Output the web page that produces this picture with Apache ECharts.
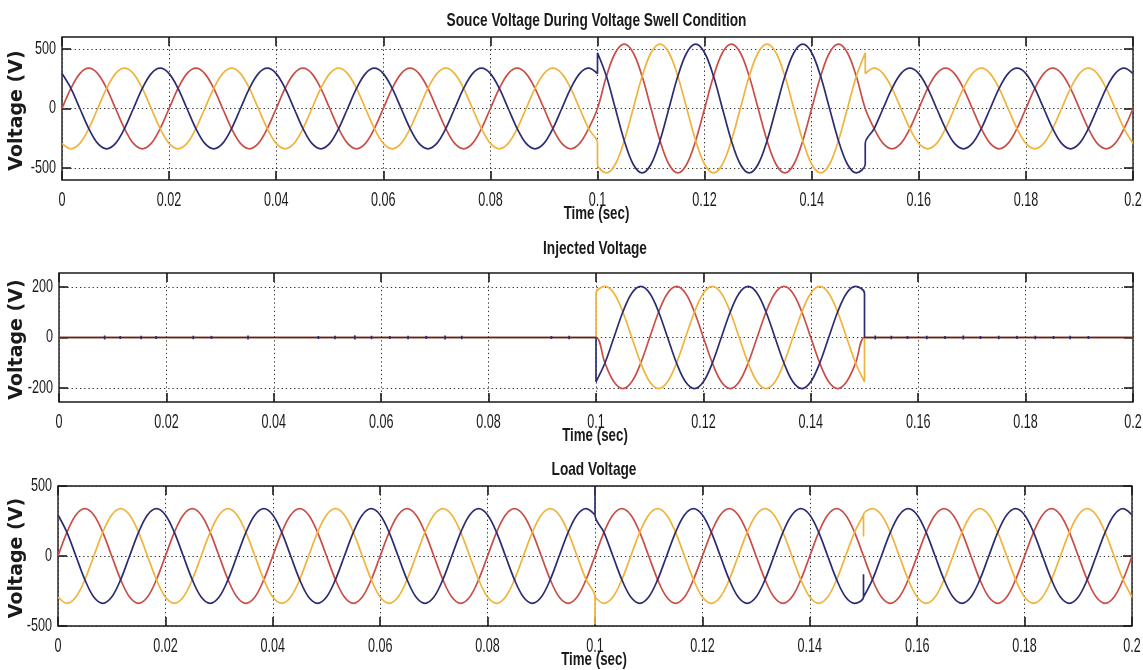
<!DOCTYPE html>
<html>
<head>
<meta charset="utf-8">
<title>Voltage Swell</title>
<script src="https://cdn.jsdelivr.net/npm/echarts@6/dist/echarts.min.js"></script>
<style>
  html, body { margin: 0; padding: 0; background: #ffffff; }
  #chart { width: 1143px; height: 670px; }
</style>
</head>
<body>
<div id="chart"></div>
<script>
// Samples are taken 12 times per 50 Hz cycle (every 1/600 s), 121 samples over 0.2 s.
const SAMPLES_PER_SECOND = 600;

const X_TICKS = [0, 0.02, 0.04, 0.06, 0.08, 0.1, 0.12, 0.14, 0.16, 0.18, 0.2];
const X_TICK_LABELS = ['0', '0.02', '0.04', '0.06', '0.08', '0.1', '0.12', '0.14', '0.16', '0.18', '0.2'];
const SOURCE_Y_TICKS = [-500, 0, 500];
const INJECTED_Y_TICKS = [-200, 0, 200];
const LOAD_Y_TICKS = [-500, 0, 500];

const TITLES = ['Souce Voltage During Voltage Swell Condition', 'Injected Voltage', 'Load Voltage'];
const X_NAME = 'Time (sec)';
const Y_NAME = 'Voltage (V)';

// ---- Source voltage (V): swell between 0.1 s and 0.15 s ----
const SOURCE_RED = [
  0, 169, 293, 338, 293, 169, 0, -169, -293, -338, -293, -169,
  0, 169, 293, 338, 293, 169, 0, -169, -293, -338, -293, -169,
  0, 169, 293, 338, 293, 169, 0, -169, -293, -338, -293, -169,
  0, 169, 293, 338, 293, 169, 0, -169, -293, -338, -293, -169,
  0, 169, 293, 338, 293, 169, 0, -169, -293, -338, -293, -169,
  0, 270, 468, 540, 468, 270, 0, -270, -468, -540, -468, -270,
  0, 270, 468, 540, 468, 270, 0, -270, -468, -540, -468, -270,
  0, 270, 468, 540, 468, 270, 0, -169, -293, -338, -293, -169,
  0, 169, 293, 338, 293, 169, 0, -169, -293, -338, -293, -169,
  0, 169, 293, 338, 293, 169, 0, -169, -293, -338, -293, -169,
  0
];
const SOURCE_YELLOW = [
  -293, -338, -293, -169, 0, 169, 293, 338, 293, 169, 0, -169,
  -293, -338, -293, -169, 0, 169, 293, 338, 293, 169, 0, -169,
  -293, -338, -293, -169, 0, 169, 293, 338, 293, 169, 0, -169,
  -293, -338, -293, -169, 0, 169, 293, 338, 293, 169, 0, -169,
  -293, -338, -293, -169, 0, 169, 293, 338, 293, 169, 0, -169,
  -468, -540, -468, -270, 0, 270, 468, 540, 468, 270, 0, -270,
  -468, -540, -468, -270, 0, 270, 468, 540, 468, 270, 0, -270,
  -468, -540, -468, -270, 0, 270, 293, 338, 293, 169, 0, -169,
  -293, -338, -293, -169, 0, 169, 293, 338, 293, 169, 0, -169,
  -293, -338, -293, -169, 0, 169, 293, 338, 293, 169, 0, -169,
  -293
];
const SOURCE_BLUE = [
  293, 169, 0, -169, -293, -338, -293, -169, 0, 169, 293, 338,
  293, 169, 0, -169, -293, -338, -293, -169, 0, 169, 293, 338,
  293, 169, 0, -169, -293, -338, -293, -169, 0, 169, 293, 338,
  293, 169, 0, -169, -293, -338, -293, -169, 0, 169, 293, 338,
  293, 169, 0, -169, -293, -338, -293, -169, 0, 169, 293, 338,
  468, 270, 0, -270, -468, -540, -468, -270, 0, 270, 468, 540,
  468, 270, 0, -270, -468, -540, -468, -270, 0, 270, 468, 540,
  468, 270, 0, -270, -468, -540, -293, -169, 0, 169, 293, 338,
  293, 169, 0, -169, -293, -338, -293, -169, 0, 169, 293, 338,
  293, 169, 0, -169, -293, -338, -293, -169, 0, 169, 293, 338,
  293
];
// values just before a switching instant: [time s, volts]
const SOURCE_RED_STEPS = [];
const SOURCE_YELLOW_STEPS = [[0.1, -293], [0.15, 468]];
const SOURCE_BLUE_STEPS = [[0.1, 293], [0.15, -468]];

// ---- Injected voltage (V) ----
const INJECTED_RED = [
  0, 0, 0, 0, 0, 0, 0, 0, 0, 0, 0, 0,
  0, 0, 0, 0, 0, 0, 0, 0, 0, 0, 0, 0,
  0, 0, 0, 0, 0, 0, 0, 0, 0, 0, 0, 0,
  0, 0, 0, 0, 0, 0, 0, 0, 0, 0, 0, 0,
  0, 0, 0, 0, 0, 0, 0, 0, 0, 0, 0, 0,
  0, -101, -175, -202, -175, -101, 0, 101, 175, 202, 175, 101,
  0, -101, -175, -202, -175, -101, 0, 101, 175, 202, 175, 101,
  0, -101, -175, -202, -175, -101, 0, 0, 0, 0, 0, 0,
  0, 0, 0, 0, 0, 0, 0, 0, 0, 0, 0, 0,
  0, 0, 0, 0, 0, 0, 0, 0, 0, 0, 0, 0,
  0
];
const INJECTED_YELLOW = [
  0, 0, 0, 0, 0, 0, 0, 0, 0, 0, 0, 0,
  0, 0, 0, 0, 0, 0, 0, 0, 0, 0, 0, 0,
  0, 0, 0, 0, 0, 0, 0, 0, 0, 0, 0, 0,
  0, 0, 0, 0, 0, 0, 0, 0, 0, 0, 0, 0,
  0, 0, 0, 0, 0, 0, 0, 0, 0, 0, 0, 0,
  175, 202, 175, 101, 0, -101, -175, -202, -175, -101, 0, 101,
  175, 202, 175, 101, 0, -101, -175, -202, -175, -101, 0, 101,
  175, 202, 175, 101, 0, -101, 0, 0, 0, 0, 0, 0,
  0, 0, 0, 0, 0, 0, 0, 0, 0, 0, 0, 0,
  0, 0, 0, 0, 0, 0, 0, 0, 0, 0, 0, 0,
  0
];
const INJECTED_BLUE = [
  0, 0, 0, 0, 0, 0, 0, 0, 0, 0, 0, 0,
  0, 0, 0, 0, 0, 0, 0, 0, 0, 0, 0, 0,
  0, 0, 0, 0, 0, 0, 0, 0, 0, 0, 0, 0,
  0, 0, 0, 0, 0, 0, 0, 0, 0, 0, 0, 0,
  0, 0, 0, 0, 0, 0, 0, 0, 0, 0, 0, 0,
  -175, -101, 0, 101, 175, 202, 175, 101, 0, -101, -175, -202,
  -175, -101, 0, 101, 175, 202, 175, 101, 0, -101, -175, -202,
  -175, -101, 0, 101, 175, 202, 0, 0, 0, 0, 0, 0,
  0, 0, 0, 0, 0, 0, 0, 0, 0, 0, 0, 0,
  0, 0, 0, 0, 0, 0, 0, 0, 0, 0, 0, 0,
  0
];
const INJECTED_RED_STEPS = [];
const INJECTED_YELLOW_STEPS = [[0.1, 0], [0.15, -175]];
const INJECTED_BLUE_STEPS = [[0.1, 0], [0.15, 175]];
// small switching ripples on the idle (zero) trace
const INJECTED_RIPPLE_TIMES = [
  0.0085, 0.0114, 0.0153, 0.0181, 0.025, 0.0284, 0.0352, 0.0483, 0.0514, 0.0551,
  0.0582, 0.0616, 0.065, 0.0684, 0.0719, 0.075, 0.0917, 0.095,
  0.152, 0.155, 0.158, 0.1616, 0.165, 0.1684, 0.1716, 0.175, 0.1784, 0.1818,
  0.1852, 0.1883, 0.1917
];
const INJECTED_RIPPLE_HEIGHTS = [
  8, 6, 7, 6, 7, 6, 8, 6, 7, 8,
  7, 6, 7, 6, 8, 7, 6, 7,
  8, 7, 6, 7, 6, 8, 6, 7, 6, 7,
  6, 7, 6
];

// ---- Load voltage (V): held at nominal with short transients at 0.1 s and 0.15 s ----
const LOAD_RED = [
  0, 169, 293, 338, 293, 169, 0, -169, -293, -338, -293, -169,
  0, 169, 293, 338, 293, 169, 0, -169, -293, -338, -293, -169,
  0, 169, 293, 338, 293, 169, 0, -169, -293, -338, -293, -169,
  0, 169, 293, 338, 293, 169, 0, -169, -293, -338, -293, -169,
  0, 169, 293, 338, 293, 169, 0, -169, -293, -338, -293, -169,
  0, 169, 293, 338, 293, 169, 0, -169, -293, -338, -293, -169,
  0, 169, 293, 338, 293, 169, 0, -169, -293, -338, -293, -169,
  0, 169, 293, 338, 293, 169, 0, -169, -293, -338, -293, -169,
  0, 169, 293, 338, 293, 169, 0, -169, -293, -338, -293, -169,
  0, 169, 293, 338, 293, 169, 0, -169, -293, -338, -293, -169,
  0
];
const LOAD_YELLOW = [
  -293, -338, -293, -169, 0, 169, 293, 338, 293, 169, 0, -169,
  -293, -338, -293, -169, 0, 169, 293, 338, 293, 169, 0, -169,
  -293, -338, -293, -169, 0, 169, 293, 338, 293, 169, 0, -169,
  -293, -338, -293, -169, 0, 169, 293, 338, 293, 169, 0, -169,
  -293, -338, -293, -169, 0, 169, 293, 338, 293, 169, 0, -169,
  -293, -338, -293, -169, 0, 169, 293, 338, 293, 169, 0, -169,
  -293, -338, -293, -169, 0, 169, 293, 338, 293, 169, 0, -169,
  -293, -338, -293, -169, 0, 169, 293, 338, 293, 169, 0, -169,
  -293, -338, -293, -169, 0, 169, 293, 338, 293, 169, 0, -169,
  -293, -338, -293, -169, 0, 169, 293, 338, 293, 169, 0, -169,
  -293
];
const LOAD_BLUE = [
  293, 169, 0, -169, -293, -338, -293, -169, 0, 169, 293, 338,
  293, 169, 0, -169, -293, -338, -293, -169, 0, 169, 293, 338,
  293, 169, 0, -169, -293, -338, -293, -169, 0, 169, 293, 338,
  293, 169, 0, -169, -293, -338, -293, -169, 0, 169, 293, 338,
  293, 169, 0, -169, -293, -338, -293, -169, 0, 169, 293, 338,
  293, 169, 0, -169, -293, -338, -293, -169, 0, 169, 293, 338,
  293, 169, 0, -169, -293, -338, -293, -169, 0, 169, 293, 338,
  293, 169, 0, -169, -293, -338, -293, -169, 0, 169, 293, 338,
  293, 169, 0, -169, -293, -338, -293, -169, 0, 169, 293, 338,
  293, 169, 0, -169, -293, -338, -293, -169, 0, 169, 293, 338,
  293
];
const LOAD_RED_STEPS = [];
const LOAD_YELLOW_STEPS = [[0.1, -293], [0.1, -490], [0.15, 293], [0.15, 140]];
const LOAD_BLUE_STEPS = [[0.1, 293], [0.1, 480], [0.15, -293], [0.15, -130]];

// ---- styling ----
const PHASE_COLORS = ['#c94e48', '#f0b43c', '#2c2c72'];
const INK = '#1a1a1a';
const TICK_FONT = '"Liberation Sans", Arial, sans-serif';
const NAME_FONT = '"DejaVu Sans", Verdana, sans-serif';

const rippleSteps = [];
INJECTED_RIPPLE_TIMES.forEach((t, i) => {
  const h = INJECTED_RIPPLE_HEIGHTS[i];
  rippleSteps.push([t, 0], [t, h], [t, -h], [t, 0]);
});

const PANELS = [
  {
    grid: { left: 62, top: 37, right: 10, height: 143 },
    yMin: -600, yMax: 600, yTicks: SOURCE_Y_TICKS, titleY: 21,
    values: [SOURCE_RED, SOURCE_YELLOW, SOURCE_BLUE],
    steps: [SOURCE_RED_STEPS, SOURCE_YELLOW_STEPS, SOURCE_BLUE_STEPS]
  },
  {
    grid: { left: 59, top: 273, right: 10, height: 129 },
    yMin: -255, yMax: 255, yTicks: INJECTED_Y_TICKS, titleY: 249,
    values: [INJECTED_RED, INJECTED_YELLOW, INJECTED_BLUE],
    steps: [INJECTED_RED_STEPS, INJECTED_YELLOW_STEPS, INJECTED_BLUE_STEPS.concat(rippleSteps)]
  },
  {
    grid: { left: 58, top: 486, right: 11, height: 140 },
    yMin: -500, yMax: 500, yTicks: LOAD_Y_TICKS, titleY: 470,
    values: [LOAD_RED, LOAD_YELLOW, LOAD_BLUE],
    steps: [LOAD_RED_STEPS, LOAD_YELLOW_STEPS, LOAD_BLUE_STEPS]
  }
];

// Merge the uniform samples with the extra points that sit at switching instants.
function buildSeriesData(values, steps) {
  const extra = steps.slice().sort((a, b) => a[0] - b[0]);
  const out = [];
  let j = 0;
  values.forEach((v, k) => {
    const t = k / SAMPLES_PER_SECOND;
    while (j < extra.length && extra[j][0] <= t + 1e-9) {
      out.push(extra[j]);
      j++;
    }
    out.push([t, v]);
  });
  return out;
}

const tickStyle = { show: true, inside: true, length: 9, lineStyle: { color: INK, width: 1.6 } };
const dotted = { show: true, lineStyle: { color: '#303030', width: 1, type: [1.3, 2.9] } };
const noLine = { show: false, onZero: false };

const grids = [], xAxes = [], yAxes = [], series = [];
PANELS.forEach((p, g) => {
  grids.push(Object.assign({
    show: true, borderColor: INK, borderWidth: 1.4, backgroundColor: '#ffffff',
    containLabel: false, outerBoundsMode: 'none'
  }, p.grid));
  const xBase = { type: 'value', gridIndex: g, min: 0, max: 0.2, interval: 0.02,
    axisLine: noLine, axisLabel: { show: false }, axisTick: tickStyle };
  xAxes.push(Object.assign({}, xBase, { position: 'bottom', splitLine: dotted }));
  xAxes.push(Object.assign({}, xBase, { position: 'top', splitLine: { show: false } }));
  const yBase = { type: 'value', gridIndex: g, min: p.yMin, max: p.yMax,
    axisLine: noLine, axisLabel: { show: false },
    axisTick: Object.assign({}, tickStyle, { customValues: p.yTicks }) };
  yAxes.push(Object.assign({}, yBase, { position: 'left', splitLine: dotted }));
  yAxes.push(Object.assign({}, yBase, { position: 'right', splitLine: { show: false } }));
  p.values.forEach((vals, s) => {
    series.push({
      type: 'line',
      xAxisIndex: 2 * g,
      yAxisIndex: 2 * g,
      data: buildSeriesData(vals, p.steps[s]),
      showSymbol: false,
      smooth: 0.35,
      silent: true,
      lineStyle: { color: PHASE_COLORS[s], width: 1.7 },
      itemStyle: { color: PHASE_COLORS[s] },
      z: 3 + s
    });
  });
});

const chart = echarts.init(document.getElementById('chart'), null, { renderer: 'canvas' });
chart.setOption({
  animation: false,
  backgroundColor: '#ffffff',
  grid: grids,
  xAxis: xAxes,
  yAxis: yAxes,
  series: series
});

// Text is laid out from the axes' own pixel mapping.
function text(str, x, y, o) {
  return {
    type: 'text', x: x, y: y, z: 100, silent: true,
    scaleX: o.scaleX || 1,
    rotation: o.rotation || 0,
    style: {
      text: str, fill: INK,
      fontSize: o.size, fontFamily: o.family, fontWeight: o.weight || 'normal',
      align: o.align || 'center', verticalAlign: 'middle'
    }
  };
}

const elements = [];
PANELS.forEach((p, g) => {
  const xi = { xAxisIndex: 2 * g };
  const yi = { yAxisIndex: 2 * g };
  const bottom = chart.convertToPixel(yi, p.yMin);
  const top = chart.convertToPixel(yi, p.yMax);
  const left = chart.convertToPixel(xi, 0);
  const mid = chart.convertToPixel(xi, 0.1);
  X_TICKS.forEach((v, i) => {
    elements.push(text(X_TICK_LABELS[i], chart.convertToPixel(xi, v), bottom + 20,
      { size: 21, family: TICK_FONT, scaleX: 0.6 }));
  });
  p.yTicks.forEach(v => {
    elements.push(text(String(v), left - 6, chart.convertToPixel(yi, v),
      { size: 18, family: TICK_FONT, scaleX: 0.7, align: 'right' }));
  });
  elements.push(text(TITLES[g], mid - 1, p.titleY,
    { size: 18.5, family: TICK_FONT, weight: 'bold', scaleX: 0.74 }));
  elements.push(text(X_NAME, mid - 1, bottom + 34,
    { size: 18.5, family: TICK_FONT, weight: 'bold', scaleX: 0.72 }));
  elements.push(text(Y_NAME, 17, (top + bottom) / 2 + 2,
    { size: 19, family: NAME_FONT, weight: 'bold', rotation: Math.PI / 2 }));
});
chart.setOption({ graphic: { elements: elements } });
</script>
</body>
</html>
